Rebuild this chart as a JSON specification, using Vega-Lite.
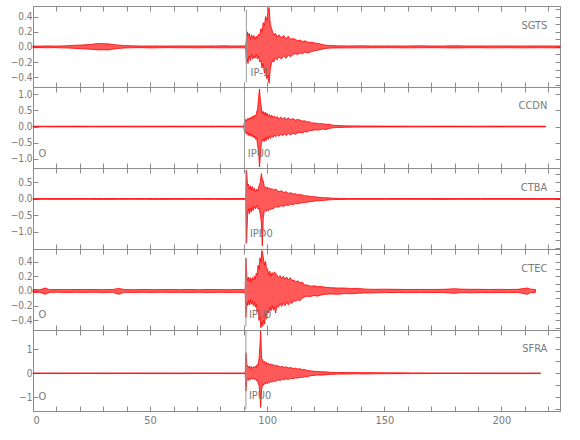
{
"$schema": "https://vega.github.io/schema/vega-lite/v6.json",
"padding": {"left": 9, "top": 5, "right": 5, "bottom": 5},
"config": {
 "view": {"stroke": "#8c8c8c", "strokeWidth": 1},
 "axis": {"domain": false, "grid": false, "tickColor": "#8c8c8c", "labelColor": "#7a7a7a", "labelFont": "DejaVu Sans Condensed, Liberation Sans, sans-serif", "labelFontSize": 10, "tickSize": -5, "labelPadding": 6, "minExtent": 0},
 "text": {"font": "DejaVu Sans Condensed, Liberation Sans, sans-serif", "fontSize": 11, "color": "#7a7a7a"}
},
"datasets": {
 "labels": [
  {"p": "SGTS", "k": "s", "t": 219.6, "y": 0.28, "l": "SGTS"},
  {"p": "SGTS", "k": "o", "t": 92.9, "y": -0.34, "l": "IP-1"},
  {"p": "CCDN", "k": "s", "t": 219.6, "y": 0.63, "l": "CCDN"},
  {"p": "CCDN", "k": "o", "t": 91.7, "y": -0.84, "l": "IPU0"},
  {"p": "CCDN", "k": "o", "t": 2.4, "y": -0.84, "l": "O"},
  {"p": "CTBA", "k": "s", "t": 219.6, "y": 0.32, "l": "CTBA"},
  {"p": "CTBA", "k": "o", "t": 92.6, "y": -1.06, "l": "IPD0"},
  {"p": "CTEC", "k": "s", "t": 219.6, "y": 0.30, "l": "CTEC"},
  {"p": "CTEC", "k": "o", "t": 92.2, "y": -0.33, "l": "IPU0"},
  {"p": "CTEC", "k": "o", "t": 2.4, "y": -0.33, "l": "O"},
  {"p": "SFRA", "k": "s", "t": 219.6, "y": 1.01, "l": "SFRA"},
  {"p": "SFRA", "k": "o", "t": 92.2, "y": -0.95, "l": "IPU0"},
  {"p": "SFRA", "k": "o", "t": 2.4, "y": -0.98, "l": "O"}
 ],
 "picks": [
  {"p": "SGTS", "t": 91.1, "y1": 0.49, "y2": -0.47},
  {"p": "CCDN", "t": 90.3, "y1": 1.1, "y2": -1.16},
  {"p": "CTBA", "t": 90.9, "y1": 0.88, "y2": -1.37},
  {"p": "CTEC", "t": 90.9, "y1": 0.45, "y2": -0.48},
  {"p": "SFRA", "t": 90.9, "y1": 1.76, "y2": -1.5}
 ],
 "sgts": [
  {"t":0,"a":-0.012,"b":0.012},{"t":3,"a":-0.01,"b":0.01},{"t":6,"a":-0.012,"b":0.013},{"t":9,"a":-0.01,"b":0.011},{"t":12,"a":-0.013,"b":0.012},{"t":15,"a":-0.015,"b":0.016},{"t":18,"a":-0.02,"b":0.022},{"t":21,"a":-0.025,"b":0.025},{"t":24,"a":-0.03,"b":0.03},{"t":26,"a":-0.035,"b":0.038},{"t":28,"a":-0.04,"b":0.045},{"t":30,"a":-0.038,"b":0.042},{"t":32,"a":-0.04,"b":0.04},{"t":34,"a":-0.03,"b":0.032},{"t":36,"a":-0.022,"b":0.025},{"t":39,"a":-0.015,"b":0.018},{"t":42,"a":-0.012,"b":0.014},{"t":46,"a":-0.01,"b":0.012},{"t":50,"a":-0.014,"b":0.012},{"t":54,"a":-0.012,"b":0.012},{"t":58,"a":-0.01,"b":0.011},{"t":62,"a":-0.012,"b":0.013},{"t":66,"a":-0.011,"b":0.012},{"t":70,"a":-0.013,"b":0.012},{"t":74,"a":-0.011,"b":0.012},{"t":78,"a":-0.012,"b":0.013},{"t":82,"a":-0.013,"b":0.014},{"t":85,"a":-0.012,"b":0.012},{"t":88,"a":-0.012,"b":0.013},{"t":90.8,"a":-0.013,"b":0.012},
  {"t":91.1,"a":-0.22,"b":0.1},{"t":91.4,"a":-0.15,"b":0.2},{"t":91.8,"a":-0.22,"b":0.14},{"t":92.3,"a":-0.12,"b":0.18},{"t":92.8,"a":-0.18,"b":0.1},{"t":93.3,"a":-0.1,"b":0.16},{"t":93.8,"a":-0.16,"b":0.12},{"t":94.3,"a":-0.12,"b":0.15},{"t":94.8,"a":-0.15,"b":0.1},{"t":95.3,"a":-0.1,"b":0.14},{"t":95.8,"a":-0.16,"b":0.12},{"t":96.3,"a":-0.12,"b":0.17},{"t":96.8,"a":-0.2,"b":0.15},{"t":97.3,"a":-0.18,"b":0.24},{"t":97.8,"a":-0.28,"b":0.2},{"t":98.3,"a":-0.22,"b":0.32},{"t":98.8,"a":-0.35,"b":0.28},{"t":99.3,"a":-0.3,"b":0.4},{"t":99.8,"a":-0.42,"b":0.35},{"t":100.3,"a":-0.38,"b":0.46},{"t":100.8,"a":-0.48,"b":0.52},{"t":101.3,"a":-0.3,"b":0.3},{"t":101.8,"a":-0.22,"b":0.25},{"t":102.3,"a":-0.18,"b":0.2},{"t":102.8,"a":-0.2,"b":0.15},{"t":103.5,"a":-0.14,"b":0.18},{"t":104.2,"a":-0.17,"b":0.13},{"t":105,"a":-0.13,"b":0.16},{"t":106,"a":-0.16,"b":0.12},{"t":107,"a":-0.12,"b":0.15},{"t":108,"a":-0.15,"b":0.11},{"t":109,"a":-0.11,"b":0.14},{"t":110,"a":-0.13,"b":0.1},{"t":111,"a":-0.1,"b":0.11},{"t":112,"a":-0.09,"b":0.1},{"t":113,"a":-0.1,"b":0.08},{"t":114,"a":-0.08,"b":0.09},{"t":115,"a":-0.09,"b":0.07},{"t":116,"a":-0.07,"b":0.08},{"t":117.5,"a":-0.08,"b":0.06},{"t":119,"a":-0.06,"b":0.06},{"t":120.5,"a":-0.05,"b":0.05},{"t":122,"a":-0.04,"b":0.045},{"t":123.5,"a":-0.03,"b":0.03},{"t":125,"a":-0.02,"b":0.022},{"t":127,"a":-0.016,"b":0.018},{"t":130,"a":-0.014,"b":0.014},
  {"t":135,"a":-0.013,"b":0.012},{"t":140,"a":-0.013,"b":0.014},{"t":145,"a":-0.012,"b":0.012},{"t":150,"a":-0.011,"b":0.013},{"t":155,"a":-0.012,"b":0.012},{"t":160,"a":-0.013,"b":0.012},{"t":165,"a":-0.012,"b":0.014},{"t":170,"a":-0.011,"b":0.012},{"t":175,"a":-0.012,"b":0.012},{"t":180,"a":-0.014,"b":0.015},{"t":185,"a":-0.012,"b":0.012},{"t":190,"a":-0.011,"b":0.012},{"t":195,"a":-0.013,"b":0.012},{"t":200,"a":-0.012,"b":0.013},{"t":205,"a":-0.012,"b":0.012},{"t":210,"a":-0.013,"b":0.012},{"t":215,"a":-0.012,"b":0.013},{"t":220,"a":-0.012,"b":0.012},{"t":225,"a":-0.013,"b":0.012}
 ],
 "ccdn": [
  {"t":0,"a":-0.012,"b":0.012},{"t":5,"a":-0.01,"b":0.012},{"t":10,"a":-0.012,"b":0.01},{"t":15,"a":-0.011,"b":0.012},{"t":20,"a":-0.012,"b":0.013},{"t":25,"a":-0.01,"b":0.011},{"t":30,"a":-0.012,"b":0.012},{"t":35,"a":-0.011,"b":0.012},{"t":40,"a":-0.012,"b":0.011},{"t":45,"a":-0.013,"b":0.012},{"t":50,"a":-0.011,"b":0.012},{"t":55,"a":-0.012,"b":0.012},{"t":60,"a":-0.012,"b":0.013},{"t":65,"a":-0.011,"b":0.012},{"t":70,"a":-0.012,"b":0.011},{"t":75,"a":-0.012,"b":0.012},{"t":80,"a":-0.011,"b":0.013},{"t":85,"a":-0.012,"b":0.012},{"t":90,"a":-0.012,"b":0.012},
  {"t":90.3,"a":-0.2,"b":0.15},{"t":90.7,"a":-0.14,"b":0.22},{"t":91.1,"a":-0.24,"b":0.16},{"t":91.5,"a":-0.18,"b":0.25},{"t":91.9,"a":-0.28,"b":0.2},{"t":92.3,"a":-0.2,"b":0.27},{"t":92.7,"a":-0.3,"b":0.22},{"t":93.1,"a":-0.22,"b":0.3},{"t":93.5,"a":-0.32,"b":0.24},{"t":93.9,"a":-0.25,"b":0.33},{"t":94.3,"a":-0.35,"b":0.28},{"t":94.7,"a":-0.3,"b":0.36},{"t":95.1,"a":-0.4,"b":0.32},{"t":95.5,"a":-0.35,"b":0.45},{"t":95.9,"a":-0.6,"b":0.55},{"t":96.3,"a":-0.75,"b":0.9},{"t":96.7,"a":-1.26,"b":1.17},{"t":97.1,"a":-0.9,"b":0.8},{"t":97.5,"a":-0.5,"b":0.6},{"t":97.9,"a":-0.45,"b":0.4},{"t":98.3,"a":-0.38,"b":0.47},{"t":98.7,"a":-0.47,"b":0.36},{"t":99.1,"a":-0.35,"b":0.45},{"t":99.5,"a":-0.44,"b":0.34},{"t":99.9,"a":-0.33,"b":0.42},{"t":100.4,"a":-0.4,"b":0.32},{"t":100.9,"a":-0.3,"b":0.38},{"t":101.4,"a":-0.37,"b":0.3},{"t":101.9,"a":-0.28,"b":0.36},{"t":102.4,"a":-0.34,"b":0.27},{"t":103,"a":-0.27,"b":0.33},{"t":103.6,"a":-0.32,"b":0.26},{"t":104.2,"a":-0.25,"b":0.31},{"t":105,"a":-0.3,"b":0.24},{"t":105.8,"a":-0.24,"b":0.3},{"t":106.6,"a":-0.29,"b":0.23},{"t":107.4,"a":-0.23,"b":0.29},{"t":108.2,"a":-0.28,"b":0.22},{"t":109,"a":-0.22,"b":0.27},{"t":110,"a":-0.26,"b":0.21},{"t":111,"a":-0.21,"b":0.25},{"t":112,"a":-0.24,"b":0.2},{"t":113,"a":-0.2,"b":0.22},{"t":114,"a":-0.18,"b":0.2},{"t":115,"a":-0.2,"b":0.17},{"t":116,"a":-0.16,"b":0.18},{"t":117,"a":-0.17,"b":0.14},{"t":118,"a":-0.13,"b":0.15},{"t":119,"a":-0.12,"b":0.11},{"t":120.5,"a":-0.1,"b":0.11},{"t":122,"a":-0.11,"b":0.09},{"t":123.5,"a":-0.08,"b":0.09},{"t":125,"a":-0.09,"b":0.07},{"t":126.5,"a":-0.06,"b":0.07},{"t":128,"a":-0.04,"b":0.04},{"t":130,"a":-0.03,"b":0.03},{"t":133,"a":-0.025,"b":0.022},{"t":137,"a":-0.018,"b":0.02},{"t":141,"a":-0.015,"b":0.016},{"t":146,"a":-0.013,"b":0.014},{"t":152,"a":-0.012,"b":0.013},{"t":160,"a":-0.013,"b":0.012},{"t":168,"a":-0.012,"b":0.012},{"t":176,"a":-0.011,"b":0.013},{"t":184,"a":-0.012,"b":0.012},{"t":192,"a":-0.013,"b":0.012},{"t":200,"a":-0.012,"b":0.013},{"t":208,"a":-0.012,"b":0.012},{"t":214,"a":-0.011,"b":0.012},{"t":218.8,"a":-0.012,"b":0.012}
 ],
 "ctba": [
  {"t":0,"a":-0.012,"b":0.012},{"t":6,"a":-0.011,"b":0.012},{"t":12,"a":-0.012,"b":0.011},{"t":18,"a":-0.012,"b":0.013},{"t":24,"a":-0.011,"b":0.012},{"t":30,"a":-0.013,"b":0.012},{"t":36,"a":-0.012,"b":0.012},{"t":42,"a":-0.011,"b":0.013},{"t":48,"a":-0.012,"b":0.012},{"t":54,"a":-0.013,"b":0.012},{"t":60,"a":-0.012,"b":0.011},{"t":66,"a":-0.012,"b":0.012},{"t":72,"a":-0.011,"b":0.013},{"t":78,"a":-0.012,"b":0.012},{"t":84,"a":-0.013,"b":0.012},{"t":90.8,"a":-0.012,"b":0.012},
  {"t":91.2,"a":-1.33,"b":0.87},{"t":91.6,"a":-0.5,"b":0.4},{"t":92,"a":-0.3,"b":0.45},{"t":92.4,"a":-0.45,"b":0.3},{"t":92.8,"a":-0.28,"b":0.4},{"t":93.2,"a":-0.4,"b":0.28},{"t":93.6,"a":-0.25,"b":0.38},{"t":94,"a":-0.35,"b":0.25},{"t":94.5,"a":-0.22,"b":0.33},{"t":95,"a":-0.3,"b":0.22},{"t":95.5,"a":-0.2,"b":0.3},{"t":96,"a":-0.3,"b":0.25},{"t":96.5,"a":-0.28,"b":0.4},{"t":97,"a":-0.45,"b":0.5},{"t":97.5,"a":-0.7,"b":0.77},{"t":97.9,"a":-1.43,"b":0.6},{"t":98.3,"a":-0.6,"b":0.55},{"t":98.7,"a":-0.38,"b":0.4},{"t":99.1,"a":-0.35,"b":0.37},{"t":99.5,"a":-0.38,"b":0.33},{"t":100,"a":-0.32,"b":0.36},{"t":100.5,"a":-0.36,"b":0.3},{"t":101,"a":-0.3,"b":0.34},{"t":101.5,"a":-0.33,"b":0.28},{"t":102,"a":-0.28,"b":0.32},{"t":102.6,"a":-0.3,"b":0.26},{"t":103.2,"a":-0.25,"b":0.3},{"t":104,"a":-0.24,"b":0.28},{"t":105,"a":-0.25,"b":0.22},{"t":106,"a":-0.2,"b":0.25},{"t":107,"a":-0.23,"b":0.2},{"t":108,"a":-0.18,"b":0.22},{"t":109,"a":-0.2,"b":0.17},{"t":110,"a":-0.16,"b":0.19},{"t":111,"a":-0.17,"b":0.15},{"t":112,"a":-0.14,"b":0.16},{"t":113,"a":-0.15,"b":0.13},{"t":114.5,"a":-0.12,"b":0.13},{"t":116,"a":-0.11,"b":0.1},{"t":117.5,"a":-0.09,"b":0.09},{"t":119,"a":-0.08,"b":0.07},{"t":120.5,"a":-0.06,"b":0.065},{"t":122,"a":-0.055,"b":0.05},{"t":124,"a":-0.045,"b":0.04},{"t":126,"a":-0.03,"b":0.035},{"t":128,"a":-0.02,"b":0.022},{"t":131,"a":-0.015,"b":0.016},{"t":135,"a":-0.012,"b":0.013},
  {"t":143,"a":-0.012,"b":0.012},{"t":151,"a":-0.011,"b":0.012},{"t":159,"a":-0.012,"b":0.013},{"t":167,"a":-0.012,"b":0.012},{"t":175,"a":-0.013,"b":0.012},{"t":183,"a":-0.012,"b":0.011},{"t":191,"a":-0.012,"b":0.012},{"t":199,"a":-0.011,"b":0.013},{"t":207,"a":-0.012,"b":0.012},{"t":215,"a":-0.013,"b":0.012},{"t":225,"a":-0.012,"b":0.012}
 ],
 "ctec": [
  {"t":0,"a":-0.02,"b":0.02},{"t":3,"a":-0.018,"b":0.017},{"t":5.2,"a":-0.045,"b":0.04},{"t":7,"a":-0.02,"b":0.018},{"t":10,"a":-0.017,"b":0.02},{"t":14,"a":-0.02,"b":0.018},{"t":18,"a":-0.018,"b":0.02},{"t":22,"a":-0.02,"b":0.019},{"t":26,"a":-0.017,"b":0.02},{"t":30,"a":-0.02,"b":0.018},{"t":34,"a":-0.019,"b":0.02},{"t":36.6,"a":-0.045,"b":0.035},{"t":39,"a":-0.018,"b":0.02},{"t":43,"a":-0.02,"b":0.017},{"t":47,"a":-0.018,"b":0.02},{"t":51,"a":-0.02,"b":0.018},{"t":55,"a":-0.017,"b":0.02},{"t":59,"a":-0.02,"b":0.019},{"t":63,"a":-0.019,"b":0.018},{"t":67,"a":-0.02,"b":0.02},{"t":71,"a":-0.018,"b":0.017},{"t":75,"a":-0.02,"b":0.02},{"t":79,"a":-0.018,"b":0.019},{"t":83,"a":-0.02,"b":0.018},{"t":87,"a":-0.019,"b":0.02},{"t":90.6,"a":-0.02,"b":0.018},
  {"t":90.9,"a":-0.36,"b":0.45},{"t":91.3,"a":-0.15,"b":0.2},{"t":91.7,"a":-0.2,"b":0.14},{"t":92.1,"a":-0.13,"b":0.19},{"t":92.5,"a":-0.19,"b":0.12},{"t":92.9,"a":-0.12,"b":0.18},{"t":93.3,"a":-0.18,"b":0.13},{"t":93.7,"a":-0.14,"b":0.18},{"t":94.1,"a":-0.2,"b":0.15},{"t":94.5,"a":-0.15,"b":0.2},{"t":94.9,"a":-0.22,"b":0.16},{"t":95.3,"a":-0.18,"b":0.24},{"t":95.7,"a":-0.28,"b":0.22},{"t":96.1,"a":-0.25,"b":0.35},{"t":96.5,"a":-0.4,"b":0.3},{"t":96.9,"a":-0.35,"b":0.45},{"t":97.3,"a":-0.5,"b":0.4},{"t":97.7,"a":-0.42,"b":0.55},{"t":98.1,"a":-0.48,"b":0.5},{"t":98.5,"a":-0.4,"b":0.42},{"t":98.9,"a":-0.45,"b":0.35},{"t":99.3,"a":-0.3,"b":0.4},{"t":99.7,"a":-0.38,"b":0.3},{"t":100.1,"a":-0.26,"b":0.3},{"t":100.6,"a":-0.3,"b":0.22},{"t":101.1,"a":-0.22,"b":0.27},{"t":101.6,"a":-0.27,"b":0.2},{"t":102.1,"a":-0.2,"b":0.25},{"t":102.6,"a":-0.26,"b":0.22},{"t":103.1,"a":-0.22,"b":0.26},{"t":103.6,"a":-0.3,"b":0.24},{"t":104.1,"a":-0.2,"b":0.22},{"t":104.8,"a":-0.22,"b":0.18},{"t":105.5,"a":-0.17,"b":0.21},{"t":106.2,"a":-0.21,"b":0.17},{"t":106.9,"a":-0.16,"b":0.2},{"t":107.6,"a":-0.2,"b":0.16},{"t":108.3,"a":-0.15,"b":0.19},{"t":109,"a":-0.19,"b":0.15},{"t":109.8,"a":-0.15,"b":0.18},{"t":110.6,"a":-0.17,"b":0.14},{"t":111.4,"a":-0.13,"b":0.15},{"t":112.2,"a":-0.14,"b":0.12},{"t":113,"a":-0.12,"b":0.14},{"t":114,"a":-0.13,"b":0.11},{"t":115,"a":-0.1,"b":0.12},{"t":116,"a":-0.08,"b":0.08},{"t":117,"a":-0.07,"b":0.08},{"t":118.5,"a":-0.075,"b":0.065},{"t":120,"a":-0.06,"b":0.07},{"t":121.5,"a":-0.07,"b":0.06},{"t":123,"a":-0.055,"b":0.06},{"t":125,"a":-0.045,"b":0.05},{"t":127,"a":-0.04,"b":0.045},{"t":130,"a":-0.045,"b":0.04},{"t":133,"a":-0.035,"b":0.04},{"t":136,"a":-0.038,"b":0.034},{"t":139,"a":-0.03,"b":0.035},{"t":142,"a":-0.028,"b":0.025},{"t":146,"a":-0.025,"b":0.022},{"t":150,"a":-0.022,"b":0.024},{"t":155,"a":-0.02,"b":0.022},{"t":160,"a":-0.022,"b":0.02},{"t":165,"a":-0.02,"b":0.021},{"t":170,"a":-0.021,"b":0.02},{"t":175,"a":-0.02,"b":0.022},{"t":179.8,"a":-0.032,"b":0.03},{"t":183,"a":-0.022,"b":0.025},{"t":187,"a":-0.025,"b":0.022},{"t":191,"a":-0.02,"b":0.022},{"t":195,"a":-0.022,"b":0.02},{"t":199,"a":-0.02,"b":0.022},{"t":203,"a":-0.022,"b":0.02},{"t":207,"a":-0.02,"b":0.022},{"t":211,"a":-0.045,"b":0.04},{"t":212.5,"a":-0.022,"b":0.025},{"t":214.5,"a":-0.02,"b":0.02}
 ],
 "sfra": [
  {"t":0,"a":-0.012,"b":0.012},{"t":6,"a":-0.011,"b":0.012},{"t":12,"a":-0.012,"b":0.011},{"t":18,"a":-0.012,"b":0.013},{"t":24,"a":-0.011,"b":0.012},{"t":30,"a":-0.013,"b":0.012},{"t":36,"a":-0.012,"b":0.012},{"t":42,"a":-0.011,"b":0.013},{"t":48,"a":-0.012,"b":0.012},{"t":54,"a":-0.013,"b":0.012},{"t":60,"a":-0.012,"b":0.011},{"t":66,"a":-0.012,"b":0.012},{"t":72,"a":-0.011,"b":0.013},{"t":78,"a":-0.012,"b":0.012},{"t":84,"a":-0.013,"b":0.012},{"t":90.6,"a":-0.012,"b":0.012},
  {"t":90.9,"a":-0.74,"b":0.86},{"t":91.3,"a":-0.3,"b":0.35},{"t":91.7,"a":-0.25,"b":0.3},{"t":92.1,"a":-0.3,"b":0.22},{"t":92.5,"a":-0.2,"b":0.3},{"t":92.9,"a":-0.26,"b":0.2},{"t":93.3,"a":-0.18,"b":0.28},{"t":93.7,"a":-0.25,"b":0.2},{"t":94.1,"a":-0.2,"b":0.27},{"t":94.5,"a":-0.26,"b":0.22},{"t":94.9,"a":-0.22,"b":0.3},{"t":95.3,"a":-0.3,"b":0.25},{"t":95.7,"a":-0.28,"b":0.37},{"t":96.1,"a":-0.4,"b":0.35},{"t":96.5,"a":-0.5,"b":0.6},{"t":96.9,"a":-0.9,"b":1.2},{"t":97.2,"a":-1.43,"b":1.76},{"t":97.6,"a":-0.7,"b":0.6},{"t":98,"a":-0.46,"b":0.58},{"t":98.4,"a":-0.5,"b":0.45},{"t":98.8,"a":-0.42,"b":0.5},{"t":99.2,"a":-0.45,"b":0.4},{"t":99.6,"a":-0.38,"b":0.46},{"t":100,"a":-0.44,"b":0.37},{"t":100.5,"a":-0.36,"b":0.43},{"t":101,"a":-0.4,"b":0.34},{"t":101.5,"a":-0.33,"b":0.4},{"t":102,"a":-0.38,"b":0.32},{"t":102.6,"a":-0.31,"b":0.37},{"t":103.2,"a":-0.35,"b":0.3},{"t":104,"a":-0.3,"b":0.33},{"t":104.8,"a":-0.28,"b":0.3},{"t":105.6,"a":-0.3,"b":0.26},{"t":106.4,"a":-0.25,"b":0.29},{"t":107.2,"a":-0.28,"b":0.24},{"t":108,"a":-0.23,"b":0.27},{"t":109,"a":-0.26,"b":0.22},{"t":110,"a":-0.21,"b":0.24},{"t":111,"a":-0.23,"b":0.2},{"t":112,"a":-0.19,"b":0.21},{"t":113,"a":-0.2,"b":0.18},{"t":114,"a":-0.17,"b":0.19},{"t":115,"a":-0.18,"b":0.15},{"t":116,"a":-0.14,"b":0.16},{"t":117,"a":-0.15,"b":0.12},{"t":118.5,"a":-0.1,"b":0.1},{"t":120,"a":-0.09,"b":0.08},{"t":121.5,"a":-0.07,"b":0.08},{"t":123,"a":-0.08,"b":0.06},{"t":125,"a":-0.06,"b":0.06},{"t":127,"a":-0.045,"b":0.04},{"t":130,"a":-0.035,"b":0.035},{"t":134,"a":-0.03,"b":0.028},{"t":138,"a":-0.025,"b":0.03},{"t":142,"a":-0.028,"b":0.024},{"t":146,"a":-0.022,"b":0.025},{"t":150,"a":-0.02,"b":0.02},{"t":156,"a":-0.016,"b":0.018},{"t":162,"a":-0.014,"b":0.015},
  {"t":170,"a":-0.012,"b":0.012},{"t":178,"a":-0.011,"b":0.012},{"t":186,"a":-0.012,"b":0.013},{"t":194,"a":-0.012,"b":0.012},{"t":202,"a":-0.013,"b":0.012},{"t":210,"a":-0.012,"b":0.011},{"t":216.7,"a":-0.012,"b":0.012}
 ]
},
"vconcat": [
 {
  "width": 527, "height": 81,
  "resolve": {"axis": {"x": "independent", "y": "independent"}},
  "layer": [
   {"data": {"name": "sgts"}, "mark": {"type": "area", "color": "#ff0000", "fillOpacity": 0.65, "stroke": "#ff0000", "strokeWidth": 0.8},
    "encoding": {
     "x": {"field": "t", "type": "quantitative", "scale": {"domain": [0, 225], "nice": false}, "title": null, "axis": {"orient": "bottom", "values": [0,10,20,30,40,50,60,70,80,90,100,110,120,130,140,150,160,170,180,190,200,210,220], "labels": false}},
     "y": {"field": "b", "type": "quantitative", "scale": {"domain": [-0.53, 0.54], "nice": false, "zero": false}, "title": null, "axis": {"orient": "left", "values": [-0.4,-0.2,0,0.2,0.4], "format": ".1f"}},
     "y2": {"field": "a"}}},
   {"data": {"name": "picks"}, "transform": [{"filter": "datum.p == 'SGTS'"}], "mark": {"type": "rule", "color": "#9a9a9a", "strokeWidth": 1},
    "encoding": {
     "x": {"field": "t", "type": "quantitative", "title": null, "axis": {"orient": "top", "values": [0,10,20,30,40,50,60,70,80,90,100,110,120,130,140,150,160,170,180,190,200,210,220], "labels": false}},
     "y": {"field": "y1", "type": "quantitative", "title": null, "axis": {"orient": "right", "values": [-0.5,-0.4,-0.3,-0.2,-0.1,0,0.1,0.2,0.3,0.4,0.5], "labels": false}},
     "y2": {"field": "y2"}}},
   {"data": {"name": "labels"}, "transform": [{"filter": "datum.p == 'SGTS' && datum.k == 's'"}], "mark": {"type": "text", "align": "right", "baseline": "middle"},
    "encoding": {"x": {"field": "t", "type": "quantitative", "axis": null}, "y": {"field": "y", "type": "quantitative", "axis": null}, "text": {"field": "l"}}},
   {"data": {"name": "labels"}, "transform": [{"filter": "datum.p == 'SGTS' && datum.k == 'o'"}], "mark": {"type": "text", "align": "left", "baseline": "middle"},
    "encoding": {"x": {"field": "t", "type": "quantitative", "axis": null}, "y": {"field": "y", "type": "quantitative", "axis": null}, "text": {"field": "l"}}}
  ]
 },
 {
  "width": 527, "height": 81,
  "resolve": {"axis": {"x": "independent", "y": "independent"}},
  "layer": [
   {"data": {"name": "ccdn"}, "mark": {"type": "area", "color": "#ff0000", "fillOpacity": 0.65, "stroke": "#ff0000", "strokeWidth": 0.8},
    "encoding": {
     "x": {"field": "t", "type": "quantitative", "scale": {"domain": [0, 225], "nice": false}, "title": null, "axis": {"orient": "bottom", "values": [0,10,20,30,40,50,60,70,80,90,100,110,120,130,140,150,160,170,180,190,200,210,220], "labels": false}},
     "y": {"field": "b", "type": "quantitative", "scale": {"domain": [-1.29, 1.23], "nice": false, "zero": false}, "title": null, "axis": {"orient": "left", "values": [-1,-0.5,0,0.5,1], "format": ".1f"}},
     "y2": {"field": "a"}}},
   {"data": {"name": "picks"}, "transform": [{"filter": "datum.p == 'CCDN'"}], "mark": {"type": "rule", "color": "#9a9a9a", "strokeWidth": 1},
    "encoding": {
     "x": {"field": "t", "type": "quantitative", "title": null, "axis": {"orient": "top", "values": [0,10,20,30,40,50,60,70,80,90,100,110,120,130,140,150,160,170,180,190,200,210,220], "labels": false}},
     "y": {"field": "y1", "type": "quantitative", "title": null, "axis": {"orient": "right", "values": [-1,-0.5,0,0.5,1], "labels": false}},
     "y2": {"field": "y2"}}},
   {"data": {"name": "labels"}, "transform": [{"filter": "datum.p == 'CCDN' && datum.k == 's'"}], "mark": {"type": "text", "align": "right", "baseline": "middle"},
    "encoding": {"x": {"field": "t", "type": "quantitative", "axis": null}, "y": {"field": "y", "type": "quantitative", "axis": null}, "text": {"field": "l"}}},
   {"data": {"name": "labels"}, "transform": [{"filter": "datum.p == 'CCDN' && datum.k == 'o'"}], "mark": {"type": "text", "align": "left", "baseline": "middle"},
    "encoding": {"x": {"field": "t", "type": "quantitative", "axis": null}, "y": {"field": "y", "type": "quantitative", "axis": null}, "text": {"field": "l"}}}
  ]
 },
 {
  "width": 527, "height": 81,
  "resolve": {"axis": {"x": "independent", "y": "independent"}},
  "layer": [
   {"data": {"name": "ctba"}, "mark": {"type": "area", "color": "#ff0000", "fillOpacity": 0.65, "stroke": "#ff0000", "strokeWidth": 0.8},
    "encoding": {
     "x": {"field": "t", "type": "quantitative", "scale": {"domain": [0, 225], "nice": false}, "title": null, "axis": {"orient": "bottom", "values": [0,10,20,30,40,50,60,70,80,90,100,110,120,130,140,150,160,170,180,190,200,210,220], "labels": false}},
     "y": {"field": "b", "type": "quantitative", "scale": {"domain": [-1.52, 0.94], "nice": false, "zero": false}, "title": null, "axis": {"orient": "left", "values": [-1,-0.5,0,0.5], "format": ".1f"}},
     "y2": {"field": "a"}}},
   {"data": {"name": "picks"}, "transform": [{"filter": "datum.p == 'CTBA'"}], "mark": {"type": "rule", "color": "#9a9a9a", "strokeWidth": 1},
    "encoding": {
     "x": {"field": "t", "type": "quantitative", "title": null, "axis": {"orient": "top", "values": [0,10,20,30,40,50,60,70,80,90,100,110,120,130,140,150,160,170,180,190,200,210,220], "labels": false}},
     "y": {"field": "y1", "type": "quantitative", "title": null, "axis": {"orient": "right", "values": [-1.5,-1.25,-1,-0.75,-0.5,-0.25,0,0.25,0.5,0.75], "labels": false}},
     "y2": {"field": "y2"}}},
   {"data": {"name": "labels"}, "transform": [{"filter": "datum.p == 'CTBA' && datum.k == 's'"}], "mark": {"type": "text", "align": "right", "baseline": "middle"},
    "encoding": {"x": {"field": "t", "type": "quantitative", "axis": null}, "y": {"field": "y", "type": "quantitative", "axis": null}, "text": {"field": "l"}}},
   {"data": {"name": "labels"}, "transform": [{"filter": "datum.p == 'CTBA' && datum.k == 'o'"}], "mark": {"type": "text", "align": "left", "baseline": "middle"},
    "encoding": {"x": {"field": "t", "type": "quantitative", "axis": null}, "y": {"field": "y", "type": "quantitative", "axis": null}, "text": {"field": "l"}}}
  ]
 },
 {
  "width": 527, "height": 81,
  "resolve": {"axis": {"x": "independent", "y": "independent"}},
  "layer": [
   {"data": {"name": "ctec"}, "mark": {"type": "area", "color": "#ff0000", "fillOpacity": 0.65, "stroke": "#ff0000", "strokeWidth": 0.8},
    "encoding": {
     "x": {"field": "t", "type": "quantitative", "scale": {"domain": [0, 225], "nice": false}, "title": null, "axis": {"orient": "bottom", "values": [0,10,20,30,40,50,60,70,80,90,100,110,120,130,140,150,160,170,180,190,200,210,220], "labels": false}},
     "y": {"field": "b", "type": "quantitative", "scale": {"domain": [-0.53, 0.57], "nice": false, "zero": false}, "title": null, "axis": {"orient": "left", "values": [-0.4,-0.2,0,0.2,0.4], "format": ".1f"}},
     "y2": {"field": "a"}}},
   {"data": {"name": "picks"}, "transform": [{"filter": "datum.p == 'CTEC'"}], "mark": {"type": "rule", "color": "#9a9a9a", "strokeWidth": 1},
    "encoding": {
     "x": {"field": "t", "type": "quantitative", "title": null, "axis": {"orient": "top", "values": [0,10,20,30,40,50,60,70,80,90,100,110,120,130,140,150,160,170,180,190,200,210,220], "labels": false}},
     "y": {"field": "y1", "type": "quantitative", "title": null, "axis": {"orient": "right", "values": [-0.5,-0.4,-0.3,-0.2,-0.1,0,0.1,0.2,0.3,0.4,0.5], "labels": false}},
     "y2": {"field": "y2"}}},
   {"data": {"name": "labels"}, "transform": [{"filter": "datum.p == 'CTEC' && datum.k == 's'"}], "mark": {"type": "text", "align": "right", "baseline": "middle"},
    "encoding": {"x": {"field": "t", "type": "quantitative", "axis": null}, "y": {"field": "y", "type": "quantitative", "axis": null}, "text": {"field": "l"}}},
   {"data": {"name": "labels"}, "transform": [{"filter": "datum.p == 'CTEC' && datum.k == 'o'"}], "mark": {"type": "text", "align": "left", "baseline": "middle"},
    "encoding": {"x": {"field": "t", "type": "quantitative", "axis": null}, "y": {"field": "y", "type": "quantitative", "axis": null}, "text": {"field": "l"}}}
  ]
 },
 {
  "width": 527, "height": 81,
  "resolve": {"axis": {"x": "independent", "y": "independent"}},
  "layer": [
   {"data": {"name": "sfra"}, "mark": {"type": "area", "color": "#ff0000", "fillOpacity": 0.65, "stroke": "#ff0000", "strokeWidth": 0.8},
    "encoding": {
     "x": {"field": "t", "type": "quantitative", "scale": {"domain": [0, 225], "nice": false}, "title": null, "axis": {"orient": "bottom", "values": [0,10,20,30,40,50,60,70,80,90,100,110,120,130,140,150,160,170,180,190,200,210,220], "labelExpr": "datum.value % 50 == 0 ? datum.label : ''", "labelPadding": 8, "labelFontSize": 11}},
     "y": {"field": "b", "type": "quantitative", "scale": {"domain": [-1.57, 1.8], "nice": false, "zero": false}, "title": null, "axis": {"orient": "left", "values": [-1,0,1], "format": "d"}},
     "y2": {"field": "a"}}},
   {"data": {"name": "picks"}, "transform": [{"filter": "datum.p == 'SFRA'"}], "mark": {"type": "rule", "color": "#9a9a9a", "strokeWidth": 1},
    "encoding": {
     "x": {"field": "t", "type": "quantitative", "title": null, "axis": {"orient": "top", "values": [0,10,20,30,40,50,60,70,80,90,100,110,120,130,140,150,160,170,180,190,200,210,220], "labels": false}},
     "y": {"field": "y1", "type": "quantitative", "title": null, "axis": {"orient": "right", "values": [-1.5,-1,-0.5,0,0.5,1,1.5], "labels": false}},
     "y2": {"field": "y2"}}},
   {"data": {"name": "labels"}, "transform": [{"filter": "datum.p == 'SFRA' && datum.k == 's'"}], "mark": {"type": "text", "align": "right", "baseline": "middle"},
    "encoding": {"x": {"field": "t", "type": "quantitative", "axis": null}, "y": {"field": "y", "type": "quantitative", "axis": null}, "text": {"field": "l"}}},
   {"data": {"name": "labels"}, "transform": [{"filter": "datum.p == 'SFRA' && datum.k == 'o'"}], "mark": {"type": "text", "align": "left", "baseline": "middle"},
    "encoding": {"x": {"field": "t", "type": "quantitative", "axis": null}, "y": {"field": "y", "type": "quantitative", "axis": null}, "text": {"field": "l"}}}
  ]
 }
],
"spacing": 0,
"bounds": "flush"
}
